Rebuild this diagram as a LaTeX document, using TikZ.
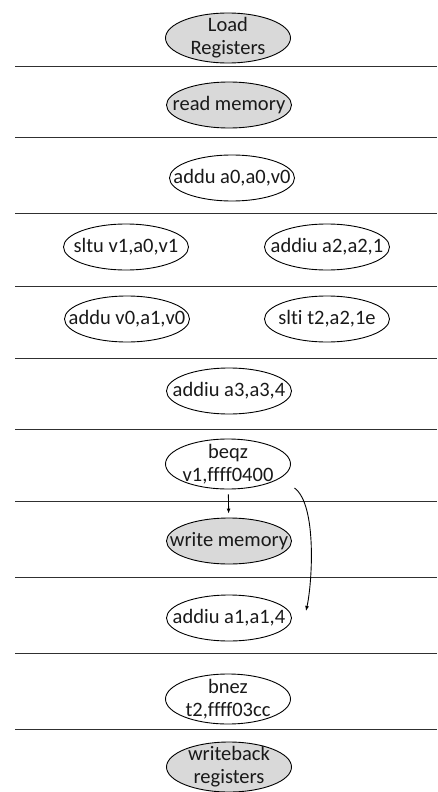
\documentclass[tikz,border=0pt]{standalone}
\usepackage{fontspec}
\setmainfont{Carlito}[Ligatures=NoCommon]
\usetikzlibrary{arrows.meta, shapes.geometric}
\definecolor{stagefill}{HTML}{D9D9D9}
\definecolor{laneline}{HTML}{303030}
\tikzset{
  op/.style={draw, ellipse, line width=0.9pt, minimum width=125pt,
    minimum height=46pt, inner sep=0pt,
    label={[align=center, text=black!90]center:#1}},
  stage/.style={op={#1}, fill=stagefill},
  twoline/.style={minimum height=50pt},
  lane/.style={laneline, line width=0.9pt},
  flow/.style={line width=0.9pt, -{Latex[length=5pt,width=4pt]}},
}

\begin{document}
\begin{tikzpicture}[x=1pt, y=-1pt, font=\fontsize{20.5}{23}\selectfont]
  \useasboundingbox (0,0) rectangle (437,792);
  % cycle boundaries
  \foreach \y in {66,137,213,286,358,429,501,577,653,729}
    \draw[lane] (15,\y) -- (437,\y);

  \node[stage={Load\\Registers}, twoline] (load) at (228,38) {};
  \node[stage={read memory}] (readmem) at (229,105) {};
  \node[op={addu a0,a0,v0}] (addua0) at (232,178) {};
  \node[op={sltu v1,a0,v1}] (sltu) at (126,247) {};
  \node[op={addiu a2,a2,1}] (addiua2) at (327,247) {};
  \node[op={addu v0,a1,v0}] (adduv0) at (127,319) {};
  \node[op={slti t2,a2,1e}] (slti) at (327,319) {};
  \node[op={addiu a3,a3,4}] (addiua3) at (229,391) {};
  \node[op={beqz\\v1,ffff0400}, twoline] (beqz) at (228,464) {};
  \node[stage={write memory}] (writemem) at (229,541) {};
  \node[op={addiu a1,a1,4}] (addiua1) at (229,618) {};
  \node[op={bnez\\t2,ffff03cc}, twoline] (bnez) at (228,699) {};
  \node[stage={writeback\\registers}, twoline] (writeback) at (229,767) {};

  % branch: fall through or skip the store
  \draw[flow, shorten <=5pt, shorten >=4pt] (beqz) -- (writemem);
  \draw[flow] ([shift={(22,6)}]beqz.south east)
    .. controls +(23,17) and +(6,-26) .. ([shift={(14,-7)}]addiua1.east);
\end{tikzpicture}
\end{document}
